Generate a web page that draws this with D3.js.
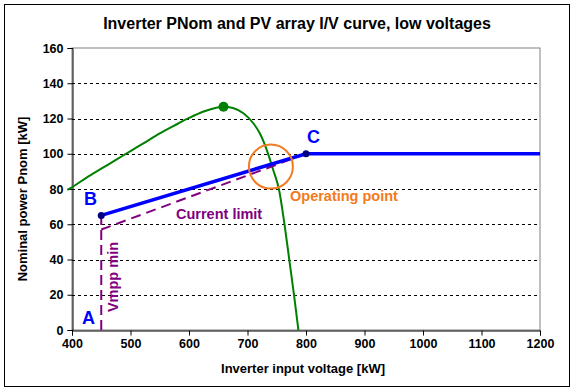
<!DOCTYPE html>
<html><head><meta charset="utf-8">
<script src="https://cdn.jsdelivr.net/npm/d3@7"></script>
<style>
body{margin:0;background:#fff;}
text{font-family:"Liberation Sans",Arial,sans-serif;font-weight:bold;}
</style></head>
<body>
<script>
// ---- data ----
const xTicks = [400,500,600,700,800,900,1000,1100,1200];
const yTicks = [0,20,40,60,80,100,120,140,160];
const gridValues = [20,40,60,80,100,120,140];
const pvVoltage = [392,400,425,450,475,500,525,550,575,600,625,645,659,675,693,710,721,733,744,754,763,771.5,779.5,787];
const pvPower   = [79.5,81,86.5,91.5,96.5,101.5,106.5,111.5,116,120.3,124,126,126.7,126,123,117.3,111.6,102.1,90.8,79.4,60.5,39.7,19.9,0];
const pvPeak = [659,126.7];
const pnomVoltage = [450,800,1200];
const pnomPower   = [65,100,100];
const pnomMarkers = [[450,65],[800,100]];
const currentLimitVoltage = [450,800];
const currentLimitPower   = [57,100];
const vmppVoltage = [450,450];
const vmppPower   = [0,65];
const operatingPoint = [740,92.7];

const W=575,H=391;
const svg=d3.select("body").append("svg").attr("width",W).attr("height",H);
svg.append("rect").attr("x",0).attr("y",0).attr("width",W).attr("height",H).attr("fill","#fff");
svg.append("rect").attr("x",4.5).attr("y",4.5).attr("width",565).attr("height",382)
  .attr("fill","none").attr("stroke","#000").attr("stroke-width",1);

const x=d3.scaleLinear().domain([400,1200]).range([72,540]);
const y=d3.scaleLinear().domain([0,160]).range([330,48]);

// plot border (gray top/right)
svg.append("rect").attr("x",72).attr("y",48).attr("width",468).attr("height",282)
  .attr("fill","none").attr("stroke","#808080").attr("stroke-width",1);

// grid
svg.append("g").selectAll("line").data(gridValues).join("line")
  .attr("x1",72).attr("x2",540).attr("y1",d=>Math.round(y(d))+0.5).attr("y2",d=>Math.round(y(d))+0.5)
  .attr("stroke","#000").attr("stroke-width",1).attr("stroke-dasharray","3,3");

// axes
const xAxis=svg.append("g").attr("transform","translate(0,330.5)")
  .call(d3.axisBottom(x).tickValues(xTicks).tickSize(5).tickPadding(4).tickFormat(d3.format("d")));
const yAxis=svg.append("g").attr("transform","translate(72.5,0)")
  .call(d3.axisLeft(y).tickValues(yTicks).tickSize(5).tickPadding(4).tickFormat(d3.format("d")));
[xAxis,yAxis].forEach(a=>{
  a.select(".domain").attr("stroke","#000");
  a.selectAll(".tick line").attr("stroke","#000");
  a.selectAll("text").attr("fill","#000").style("font-size","12.5px").style("font-weight","bold")
   .style("font-family","'Liberation Sans',Arial,sans-serif");
});

// title & axis titles
svg.append("text").attr("x",297).attr("y",29).attr("text-anchor","middle")
  .style("font-size","16px").text("Inverter PNom and PV array I/V curve, low voltages");
svg.append("text").attr("x",303).attr("y",373).attr("text-anchor","middle")
  .style("font-size","13px").text("Inverter input voltage [kW]");
svg.append("text").attr("transform","translate(27,199) rotate(-90)").attr("text-anchor","middle")
  .style("font-size","13px").text("Nominal power Pnom [kW]");

// PV curve
const curveLine=d3.line().x(d=>x(d[0])).y(d=>y(d[1])).curve(d3.curveMonotoneX);
svg.append("path").datum(pvVoltage.map((v,i)=>[v,pvPower[i]]))
  .attr("d",curveLine).attr("fill","none").attr("stroke","#008000").attr("stroke-width",2);
svg.append("circle").attr("cx",x(pvPeak[0])).attr("cy",y(pvPeak[1])).attr("r",5).attr("fill","#008000");

const lin=d3.line().x(d=>x(d[0])).y(d=>y(d[1]));
// Vmpp min & current limit (purple dashed)
svg.append("path").datum(vmppVoltage.map((v,i)=>[v,vmppPower[i]]))
  .attr("d",lin).attr("fill","none").attr("stroke","#800080").attr("stroke-width",2).attr("stroke-dasharray","10,5");
svg.append("path").datum(currentLimitVoltage.map((v,i)=>[v,currentLimitPower[i]]))
  .attr("d",lin).attr("fill","none").attr("stroke","#800080").attr("stroke-width",2).attr("stroke-dasharray","10,6");

// Pnom line
svg.append("path").datum(pnomVoltage.map((v,i)=>[v,pnomPower[i]]))
  .attr("d",lin).attr("fill","none").attr("stroke","#0000FF").attr("stroke-width",3.5);
svg.append("g").selectAll("circle").data(pnomMarkers).join("circle")
  .attr("cx",d=>x(d[0])).attr("cy",d=>y(d[1])).attr("r",3.5).attr("fill","#000080");

// operating point circle
svg.append("circle").attr("cx",x(operatingPoint[0])).attr("cy",y(operatingPoint[1])).attr("r",22)
  .attr("fill","none").attr("stroke","#F47A20").attr("stroke-width",2);

// labels
svg.append("text").attr("x",84).attr("y",205).attr("fill","#0000FF").style("font-size","18px").text("B");
svg.append("text").attr("x",307).attr("y",143).attr("fill","#0000FF").style("font-size","18px").text("C");
svg.append("text").attr("x",82).attr("y",324).attr("fill","#0000FF").style("font-size","18px").text("A");
svg.append("text").attr("x",176).attr("y",219).attr("fill","#800080").style("font-size","14.5px").text("Current limit");
svg.append("text").attr("x",290).attr("y",201).attr("fill","#F47A20").style("font-size","14.5px").text("Operating point");
svg.append("text").attr("transform","translate(117.5,277) rotate(-90)").attr("text-anchor","middle")
  .attr("fill","#800080").style("font-size","14.5px").text("Vmpp min");
</script>
</body></html>
